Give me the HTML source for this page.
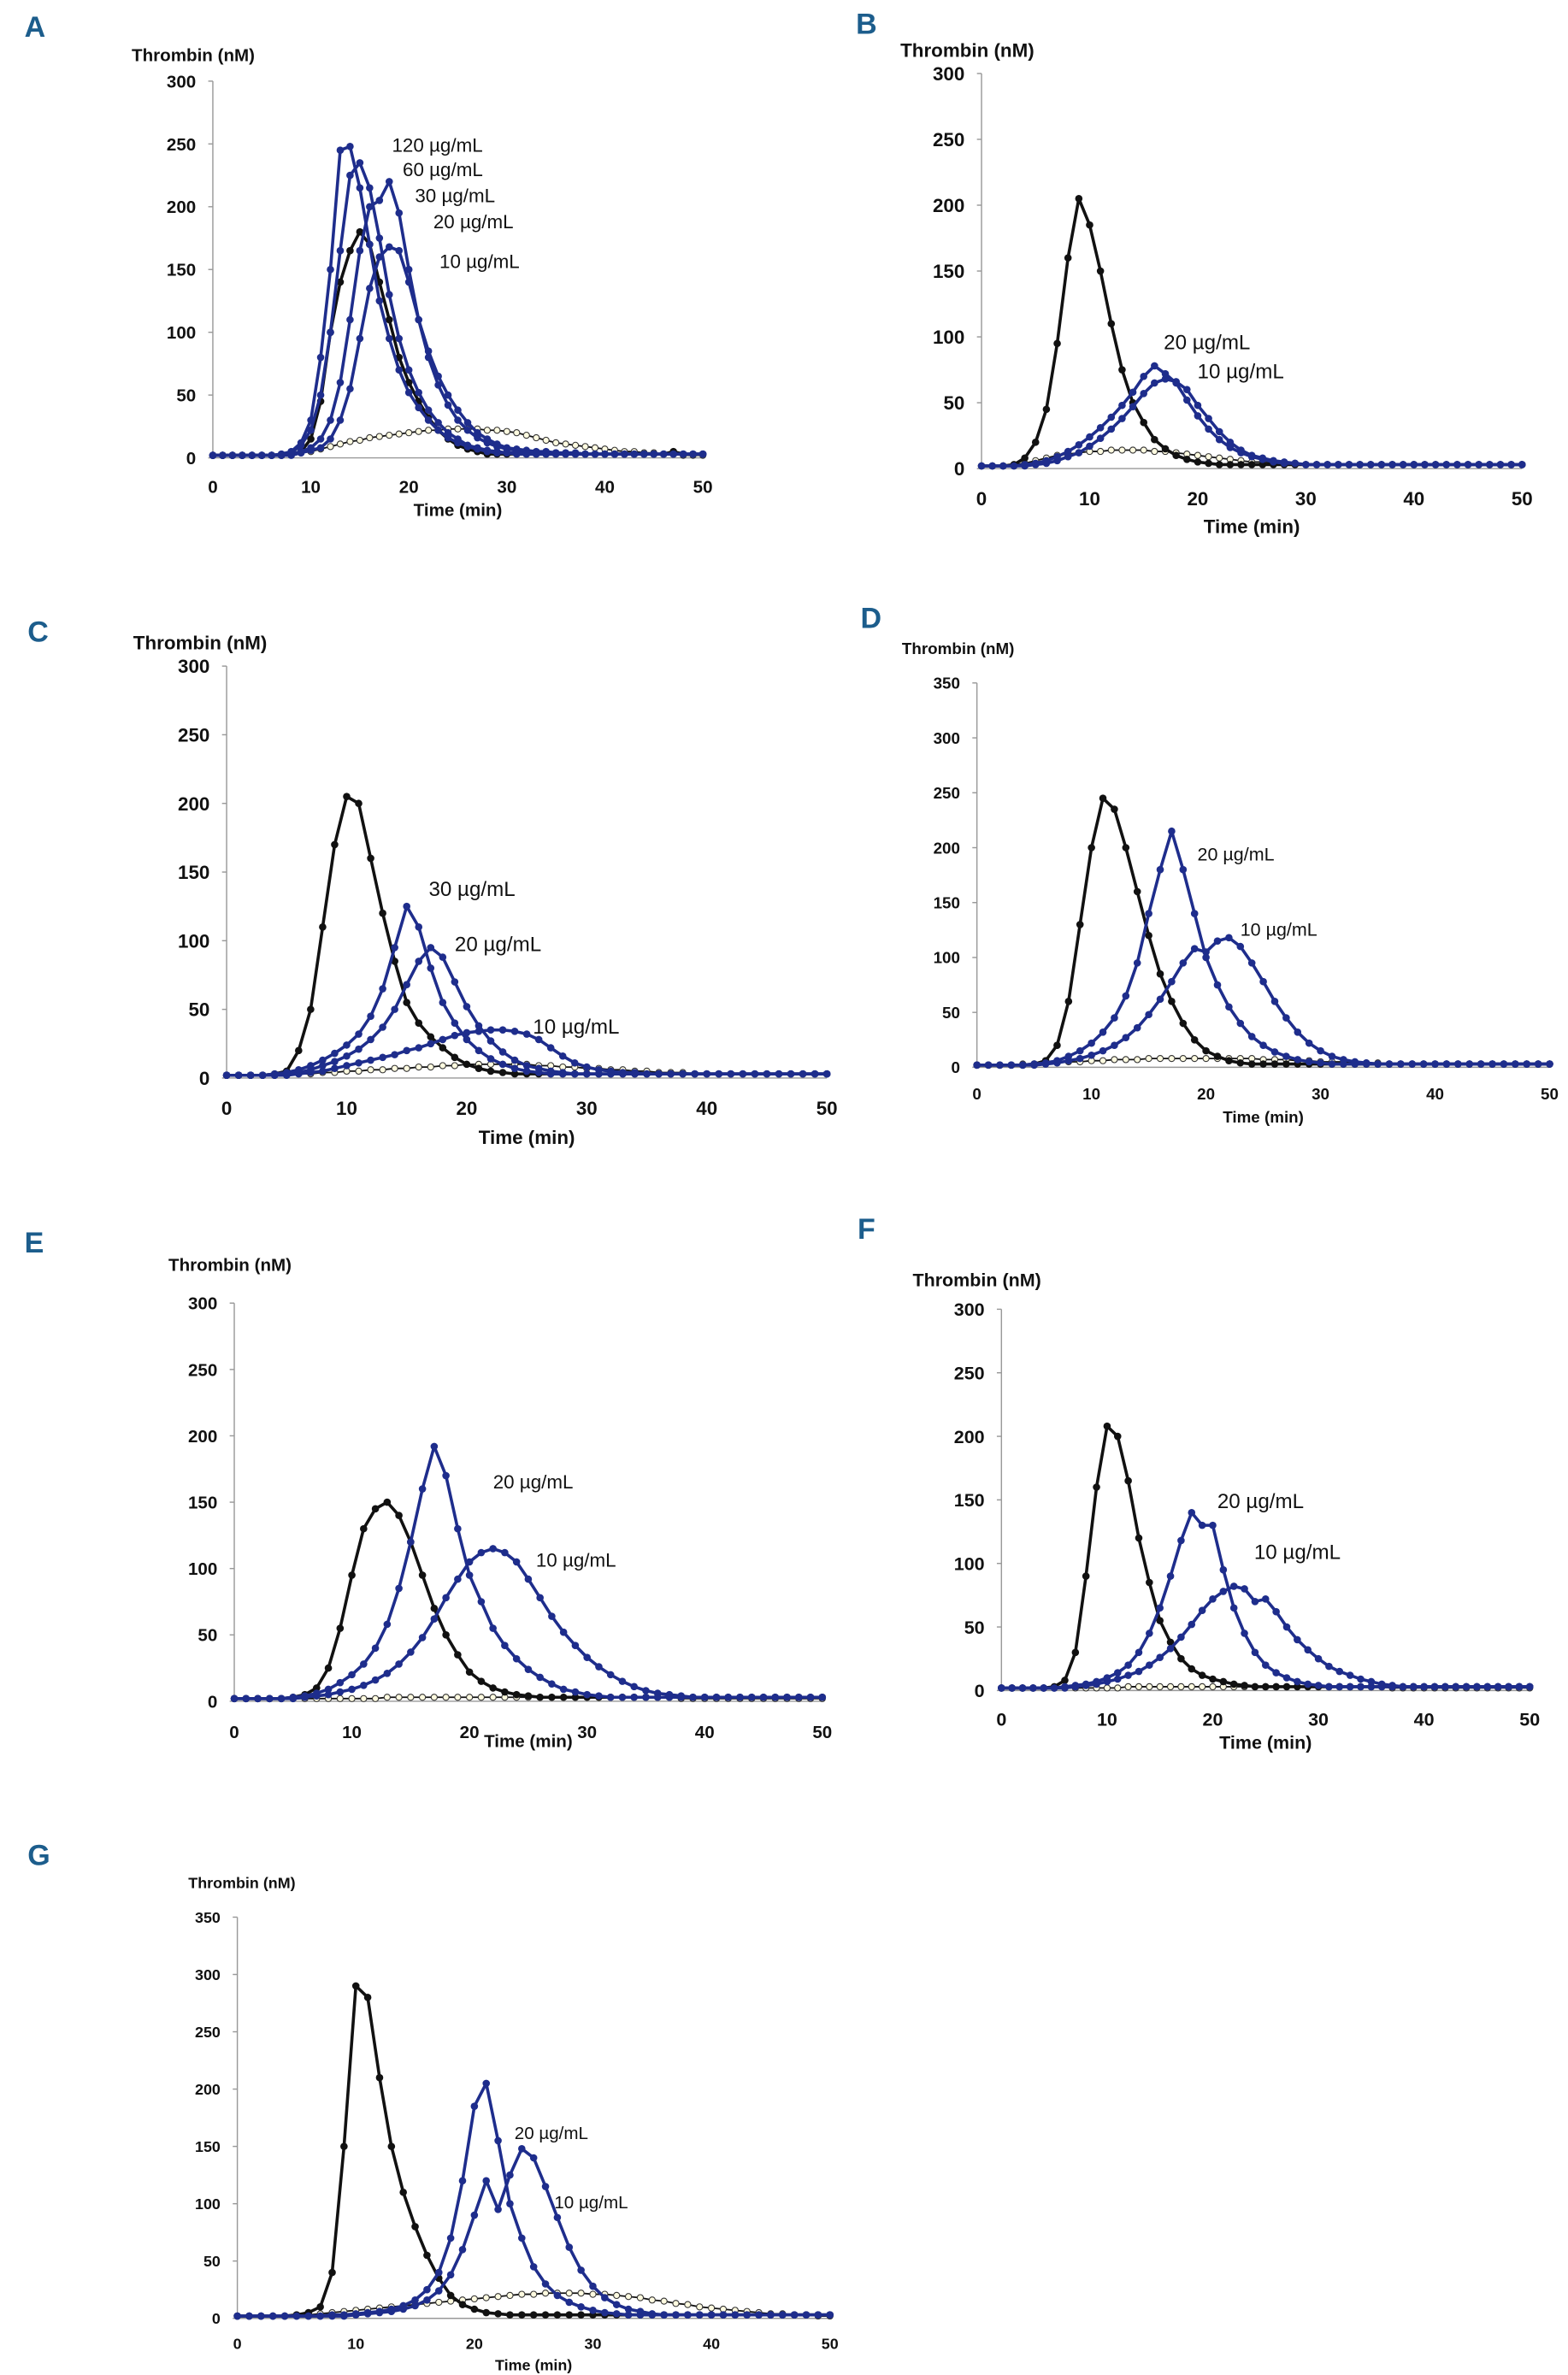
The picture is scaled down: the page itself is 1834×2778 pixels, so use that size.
<!DOCTYPE html>
<html><head><meta charset="utf-8"><style>
html,body{margin:0;padding:0;background:#fff}
svg{display:block}
text{font-family:"Liberation Sans Narrow","Liberation Sans",sans-serif;font-weight:bold;fill:#111}
.lab{font-weight:normal}
</style></head><body>
<svg id="fig" width="1834" height="2778" viewBox="0 0 1024 1551" preserveAspectRatio="none" xmlns="http://www.w3.org/2000/svg"></svg>
<script>
const timeMin=[0,1,2,3,4,5,6,7,8,9,10,11,12,13,14,15,16,17,18,19,20,21,22,23,24,25,26,27,28,29,30,31,32,33,34,35,36,37,38,39,40,41,42,43,44,45,46,47,48,49,50];
const xTicks=[0,10,20,30,40,50];
// Panel A
const A_ctrl=[2,2,2,2,2,2,2,2,3,5, 15,45,100,140,165,180,170,140,110,80, 60,45,32,22,15,10,7,5,3,3, 3,3,3,3,3,3,3,3,3,3, 3,3,3,3,3,3,3,5,3,3,3];
const A_120=[2,2,2,2,2,2,2,3,5,12, 30,80,150,245,248,215,170,125,95,70, 52,40,30,22,16,12,9,7,5,4, 4,3,3,3,3,3,3,3,3,3, 3,3,3,3,3,3,3,3,3,3,3];
const A_60=[2,2,2,2,2,2,2,3,4,10, 22,50,100,165,225,235,215,175,130,95, 70,52,38,28,20,15,10,8,6,5, 4,4,3,3,3,3,3,3,3,3, 3,3,3,3,3,3,3,3,3,3,3];
const A_30=[2,2,2,2,2,2,2,2,3,5, 8,15,30,60,110,165,200,205,220,195, 150,110,80,58,42,30,22,16,12,9, 7,6,5,4,4,4,3,3,3,3, 3,3,3,3,3,3,3,3,3,3,3];
const A_20=[2,2,2,2,2,2,2,2,2,4, 6,8,15,30,55,95,135,160,168,165, 140,110,85,65,50,38,28,20,15,11, 8,7,6,5,5,4,4,4,3,3, 3,3,3,3,3,3,3,3,3,3,3];
const A_open=[2,2,2,2,2,2,2,2,3,4, 5,7,9,11,13,14,16,17,18,19, 20,21,22,22,23,23,23,23,22,22, 21,20,18,16,14,12,11,10,9,8, 7,6,5,5,4,4,3,3,2,2,2];
// Panel B
const B_ctrl=[2,2,2,3,8,20,45,95,160,205, 185,150,110,75,50,35,22,15,10,7, 5,4,3,3,3,3,3,3,3,3, 3,3,3,3,3,3,3,3,3,3, 3,3,3,3,3,3,3,3,3,3,3];
const B_20=[2,2,2,2,3,4,6,9,13,18, 24,31,39,48,58,70,78,72,65,52, 40,30,22,16,12,9,7,5,4,4, 3,3,3,3,3,3,3,3,3,3, 3,3,3,3,3,3,3,3,3,3,3];
const B_10=[2,2,2,2,2,3,4,6,9,12, 17,23,30,38,47,57,65,68,66,60, 48,38,28,20,14,10,8,6,5,4, 3,3,3,3,3,3,3,3,3,3, 3,3,3,3,3,3,3,3,3,3,3];
const B_open=[2,2,2,3,4,6,8,10,11,12, 13,13,14,14,14,14,13,13,12,11, 10,9,8,7,6,5,5,4,4,3, 3,3,3,3,3,3,3,3,3,3, 3,3,3,3,3,3,3,3,3,3,3];
// Panel C
const C_ctrl=[2,2,2,2,3,5,20,50,110,170, 205,200,160,120,85,55,40,30,22,15, 10,7,5,4,3,3,3,3,3,3, 3,3,3,3,3,3,3,3,3,3, 3,3,3,3,3,3,3,3,3,3,3];
const C_30=[2,2,2,2,3,4,6,9,13,18, 24,32,45,65,95,125,110,80,55,40, 28,20,14,10,7,5,4,3,3,3, 3,3,3,3,3,3,3,3,3,3, 3,3,3,3,3,3,3,3,3,3,3];
const C_20=[2,2,2,2,2,3,4,6,9,12, 16,21,28,37,50,68,85,95,88,70, 52,38,27,19,13,9,7,5,4,3, 3,3,3,3,3,3,3,3,3,3, 3,3,3,3,3,3,3,3,3,3,3];
const C_10=[2,2,2,2,2,2,3,4,5,7, 9,11,13,15,17,20,22,25,28,31, 33,34,35,35,34,32,28,22,16,11, 8,6,5,4,4,3,3,3,3,3, 3,3,3,3,3,3,3,3,3,3,3];
const C_open=[2,2,2,2,2,2,3,3,4,4, 5,5,6,6,7,7,8,8,9,9, 10,10,10,10,10,10,9,9,8,8, 7,7,6,6,5,5,4,4,4,3, 3,3,3,3,3,3,3,3,3,3,3];
// Panel D
const D_ctrl=[2,2,2,2,2,3,6,20,60,130, 200,245,235,200,160,120,85,60,40,25, 15,10,6,4,3,3,3,3,3,3, 3,3,3,3,3,3,3,3,3,3, 3,3,3,3,3,3,3,3,3,3,3];
const D_20=[2,2,2,2,2,3,4,6,10,15, 22,32,45,65,95,140,180,215,180,140, 100,75,55,40,28,20,14,10,7,5, 4,3,3,3,3,3,3,3,3,3, 3,3,3,3,3,3,3,3,3,3,3];
const D_10=[2,2,2,2,2,2,3,4,6,8, 11,15,20,27,36,48,62,78,95,108, 105,115,118,110,95,78,60,45,32,22, 15,10,7,5,4,3,3,3,3,3, 3,3,3,3,3,3,3,3,3,3,3];
const D_open=[2,2,2,2,3,3,4,4,5,5, 6,6,7,7,7,8,8,8,8,8, 8,8,8,8,8,7,7,7,6,6, 5,5,5,4,4,4,3,3,3,3, 3,3,3,3,3,3,3,3,3,3,3];
// Panel E
const E_ctrl=[2,2,2,2,2,3,5,10,25,55, 95,130,145,150,140,120,95,70,50,35, 22,15,10,7,5,4,3,3,3,3, 3,3,3,3,3,3,3,3,3,3, 3,3,3,3,3,3,3,3,3,3,3];
const E_20=[2,2,2,2,2,3,4,6,9,14, 20,28,40,58,85,120,160,192,170,130, 95,75,55,42,32,24,18,13,9,7, 5,4,3,3,3,3,3,3,3,3, 3,3,3,3,3,3,3,3,3,3,3];
const E_10=[2,2,2,2,2,2,3,4,5,7, 9,12,16,21,28,37,48,62,78,92, 105,112,115,112,105,92,78,64,52,42, 33,26,20,15,11,8,6,5,4,3, 3,3,3,3,3,3,3,3,3,3,3];
const E_open=[2,2,2,2,2,2,2,2,2,2, 2,2,2,3,3,3,3,3,3,3, 3,3,3,3,3,3,3,3,3,3, 3,3,3,3,3,3,3,3,2,2, 2,2,2,2,2,2,2,2,2,2,2];
// Panel F
const F_ctrl=[2,2,2,2,2,3,8,30,90,160, 208,200,165,120,85,55,38,25,17,12, 9,7,5,4,3,3,3,3,3,3, 3,3,3,3,3,3,3,3,3,3, 3,3,3,3,3,3,3,3,3,3,3];
const F_20=[2,2,2,2,2,2,3,4,5,7, 10,14,20,30,45,65,90,118,140,130, 130,95,65,45,30,20,14,10,7,5, 4,3,3,3,3,3,3,3,3,3, 3,3,3,3,3,3,3,3,3,3,3];
const F_10=[2,2,2,2,2,2,2,3,4,5, 7,9,12,15,20,26,33,42,52,63, 72,78,82,80,70,72,62,50,40,32, 25,19,15,12,9,7,5,4,3,3, 3,3,3,3,3,3,3,3,3,3,3];
const F_open=[2,2,2,2,2,2,2,2,2,2, 2,2,3,3,3,3,3,3,3,3, 3,3,3,3,3,3,3,3,3,3, 3,3,3,3,3,3,3,2,2,2, 2,2,2,2,2,2,2,2,2,2,2];
// Panel G
const G_ctrl=[2,2,2,2,2,3,5,10,40,150, 290,280,210,150,110,80,55,35,20,12, 8,5,4,3,3,3,3,3,3,3, 3,3,3,3,3,3,3,3,3,3, 3,3,3,3,3,3,3,3,3,3,3];
const G_20=[2,2,2,2,2,2,2,2,3,3, 4,5,6,8,11,16,25,40,70,120, 185,205,155,100,70,45,30,20,14,10, 7,5,4,3,3,3,3,3,3,3, 3,3,3,3,3,3,3,3,3,3,3];
const G_10=[2,2,2,2,2,2,2,2,2,2, 3,4,5,6,8,11,16,24,38,60, 90,120,95,125,148,140,115,88,62,42, 28,18,12,8,6,4,3,3,3,3, 3,3,3,3,3,3,3,3,3,3,3];
const G_open=[2,2,2,2,2,3,3,4,5,6, 7,8,9,10,11,12,13,14,15,16, 17,18,19,20,21,21,22,22,22,22, 21,21,20,19,18,16,15,13,12,10, 9,8,7,6,5,4,4,3,3,2,2];

const BLUE='#1e2d8c';
const panels=[
 {L:'A',lx:16,ly:24,tx:86,ty:40,ax:139,y0:299,yt:53,x50:459,ymax:300,step:50,fs:11.5,xly:322,tiy:337,
  s:[[A_open,'open'],[A_ctrl,'black'],[A_20,'blue'],[A_30,'blue'],[A_60,'blue'],[A_120,'blue']],
  lab:[['120 µg/mL',256,99],['60 µg/mL',263,115],['30 µg/mL',271,132],['20 µg/mL',283,149],['10 µg/mL',287,175]],lfs:12.5},
 {L:'B',lx:559,ly:22,tx:588,ty:37,ax:641,y0:306,yt:48,x50:994,ymax:300,step:50,fs:12.5,xly:330,tiy:348,
  s:[[B_open,'open'],[B_ctrl,'black'],[B_10,'blue'],[B_20,'blue']],
  lab:[['20 µg/mL',760,228],['10 µg/mL',782,247]],lfs:13.5},
 {L:'C',lx:18,ly:419,tx:87,ty:424,ax:148,y0:704,yt:435,x50:540,ymax:300,step:50,fs:12.5,xly:728,tiy:747,
  s:[[C_open,'open'],[C_ctrl,'black'],[C_10,'blue'],[C_20,'blue'],[C_30,'blue']],
  lab:[['30 µg/mL',280,585],['20 µg/mL',297,621],['10 µg/mL',348,675]],lfs:13.5},
 {L:'D',lx:562,ly:410,tx:589,ty:427,ax:638,y0:697,yt:446,x50:1012,ymax:350,step:50,fs:10.5,xly:718,tiy:733,
  s:[[D_open,'open'],[D_ctrl,'black'],[D_10,'blue'],[D_20,'blue']],
  lab:[['20 µg/mL',782,562],['10 µg/mL',810,611]],lfs:12},
 {L:'E',lx:16,ly:818,tx:110,ty:830,ax:153,y0:1111,yt:851,x50:537,ymax:300,step:50,fs:11.5,xly:1135,tiy:1141,
  s:[[E_open,'open'],[E_ctrl,'black'],[E_10,'blue'],[E_20,'blue']],
  lab:[['20 µg/mL',322,972],['10 µg/mL',350,1023]],lfs:12.5},
 {L:'F',lx:560,ly:809,tx:596,ty:840,ax:654,y0:1104,yt:855,x50:999,ymax:300,step:50,fs:12,xly:1127,tiy:1142,
  s:[[F_open,'open'],[F_ctrl,'black'],[F_10,'blue'],[F_20,'blue']],
  lab:[['20 µg/mL',795,985],['10 µg/mL',819,1018]],lfs:13.5},
 {L:'G',lx:18,ly:1218,tx:123,ty:1233,ax:155,y0:1514,yt:1252,x50:542,ymax:350,step:50,fs:10,xly:1534,tiy:1548,
  s:[[G_open,'open'],[G_ctrl,'black'],[G_10,'blue'],[G_20,'blue']],
  lab:[['20 µg/mL',336,1397],['10 µg/mL',362,1442]],lfs:11.5}
];
const svg=document.getElementById('fig');
const NS='http://www.w3.org/2000/svg';
function mk(tag,attrs,parent,txt){const e=document.createElementNS(NS,tag);for(const k in attrs)e.setAttribute(k,attrs[k]);if(txt!==undefined)e.textContent=txt;parent.appendChild(e);return e;}
panels.forEach(p=>{
  const g=mk('g',{},svg);
  
  
  const xS=t=>p.ax+(p.x50-p.ax)*t/50;
  const yS=v=>p.y0-(p.y0-p.yt)*v/p.ymax;
  const let_=mk('text',{x:p.lx,y:p.ly,'font-size':19,style:'fill:#1c5d8c'},g,p.L);
  
  
  const yt=mk('text',{x:p.tx,y:p.ty,'font-size':p.fs},g,'Thrombin (nM)');
  
  
  const ya=mk('line',{x1:p.ax,y1:p.yt,x2:p.ax,y2:p.y0,stroke:'#999','stroke-width':0.8},g);
  
  
  const xa=mk('line',{x1:p.ax,y1:p.y0,x2:p.x50,y2:p.y0,stroke:'#999','stroke-width':0.8},g);
  
  
  for(let v=0;v<=p.ymax;v+=p.step){
    const tk=mk('line',{x1:p.ax-3,y1:yS(v),x2:p.ax,y2:yS(v),stroke:'#999','stroke-width':0.8},g);
    
    
    const tl=mk('text',{x:p.ax-11,y:yS(v)+p.fs*0.36,'font-size':p.fs,'text-anchor':'end'},g,String(v));
    
    
  }
  xTicks.forEach(t=>{
    const tl=mk('text',{x:xS(t),y:p.xly,'font-size':p.fs,'text-anchor':'middle'},g,String(t));
    
    
  });
  const xt=mk('text',{x:(p.ax+p.x50)/2,y:p.tiy,'font-size':p.fs,'text-anchor':'middle'},g,'Time (min)');
  
  
  p.s.forEach(([vals,type])=>{
    const col=type==='blue'?BLUE:'#111';
    const pts=vals.map((v,i)=>xS(timeMin[i]).toFixed(2)+','+yS(v).toFixed(2)).join(' ');
    const ln=mk('polyline',{points:pts,fill:'none',stroke:col,'stroke-width':type==='open'?1:2,'stroke-linejoin':'round'},g);
    
    
    vals.forEach((v,i)=>{
      const c=mk('circle',{cx:xS(timeMin[i]),cy:yS(v),r:type==='open'?2:2.4,fill:type==='open'?'#fffbe0':col,stroke:type==='open'?'#333':'none','stroke-width':0.6},g);
      
      
    });
  });
  p.lab.forEach(([t,x,y])=>{
    const l=mk('text',{x:x,y:y,'font-size':p.lfs,class:'lab'},g,t);
    
    
  });
});
</script>
</body></html>
